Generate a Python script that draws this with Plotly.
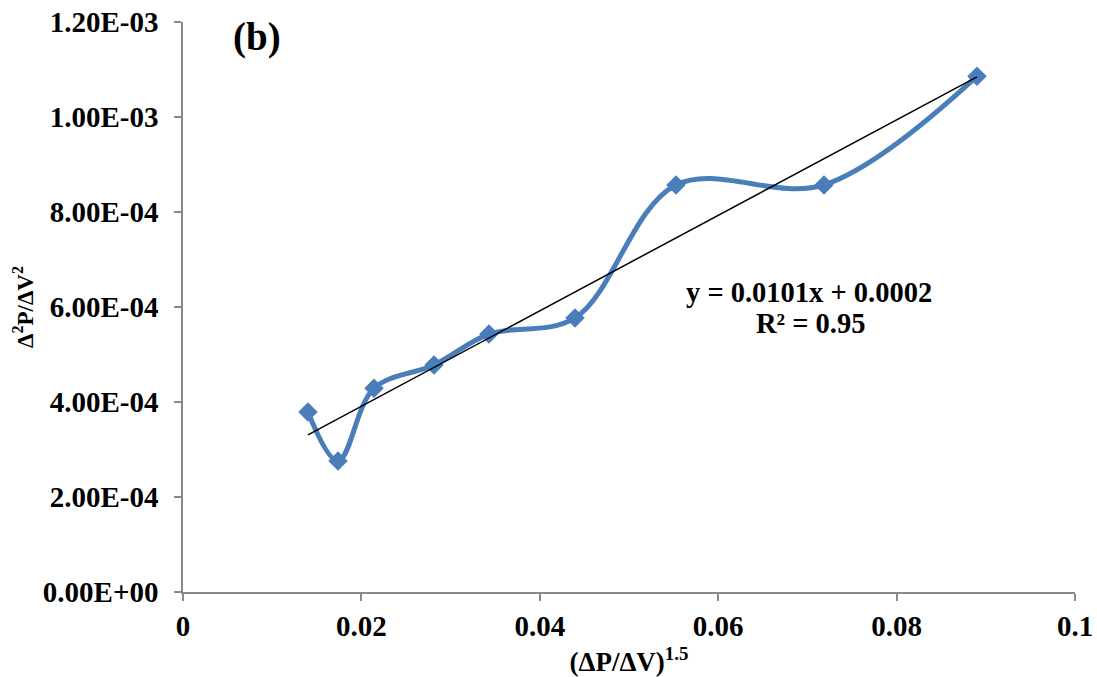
import numpy as np
import plotly.graph_objects as go

# Measured points
x_vals = [0.01401, 0.01738, 0.02141, 0.02814, 0.03430, 0.04395, 0.05527, 0.07186, 0.08901]
y_vals = [3.79e-4, 2.76e-4, 4.29e-4, 4.78e-4, 5.43e-4, 5.77e-4, 8.57e-4, 8.57e-4, 1.086e-3]

x_ticks = [0, 0.02, 0.04, 0.06, 0.08, 0.1]
x_tick_text = ["0", "0.02", "0.04", "0.06", "0.08", "0.1"]
y_ticks = [0, 2e-4, 4e-4, 6e-4, 8e-4, 1e-3, 1.2e-3]
y_tick_text = ["0.00E+00", "2.00E-04", "4.00E-04", "6.00E-04", "8.00E-04", "1.00E-03", "1.20E-03"]

# Least-squares linear trend over the measured points
slope, intercept = np.polyfit(x_vals, y_vals, 1)
trend_x = [min(x_vals), max(x_vals)]
trend_y = [slope * v + intercept for v in trend_x]

FONT = "Liberation Serif"
BLUE = "#4a7ebb"
AXIS = "#898989"

fig = go.Figure()
fig.add_trace(go.Scatter(
    x=x_vals, y=y_vals, mode="lines+markers",
    line=dict(color=BLUE, width=5, shape="spline", smoothing=1.0),
    marker=dict(symbol="diamond", size=15, color=BLUE),
    showlegend=False,
))
fig.add_trace(go.Scatter(
    x=trend_x, y=trend_y, mode="lines",
    line=dict(color="black", width=1.5),
    showlegend=False,
))

# Trendline equation, two lines
fig.add_annotation(
    x=0.0702, y=6.30e-4, xref="x", yref="y",
    text="<b>y = 0.0101x + 0.0002</b>",
    showarrow=False, font=dict(family=FONT, size=28.5, color="black"),
)
fig.add_annotation(
    x=0.0704, y=5.66e-4, xref="x", yref="y",
    text="<b>R² = 0.95</b>",
    showarrow=False, font=dict(family=FONT, size=28.5, color="black"),
)
fig.add_annotation(
    x=0.0083, y=1.168e-3, xref="x", yref="y",
    text="<b>(b)</b>", showarrow=False,
    font=dict(family=FONT, size=39, color="black"),
)

fig.update_layout(
    width=1097, height=677,
    margin=dict(l=183, r=22, t=22, b=85),
    paper_bgcolor="white", plot_bgcolor="white",
    font=dict(family=FONT, color="black"),
)
fig.update_xaxes(
    range=[0, 0.1], tickvals=x_ticks, ticktext=[f"<b>{t}</b>" for t in x_tick_text],
    tickfont=dict(family=FONT, size=29), showgrid=False, zeroline=False,
    showline=True, linecolor=AXIS, linewidth=1.5, automargin=False,
    ticks="outside", ticklen=7, tickcolor=AXIS, tickwidth=1.5,
    ticklabelstandoff=0,
    title=dict(text="<b>(ΔP/ΔV)<sup>1.5</sup></b>", font=dict(family=FONT, size=27), standoff=13),
)
fig.update_yaxes(
    range=[0, 1.2e-3], tickvals=y_ticks, ticktext=[f"<b>{t}</b>" for t in y_tick_text],
    tickfont=dict(family=FONT, size=29), showgrid=False, zeroline=False,
    showline=True, linecolor=AXIS, linewidth=1.5, automargin=False,
    ticks="outside", ticklen=7, tickcolor=AXIS, tickwidth=1.5,
    ticklabelstandoff=10,
    title=dict(text="<b>Δ<sup>2</sup>P/ΔV<sup>2</sup></b>", font=dict(family=FONT, size=23), standoff=3),
)

fig.write_html("out.html")
